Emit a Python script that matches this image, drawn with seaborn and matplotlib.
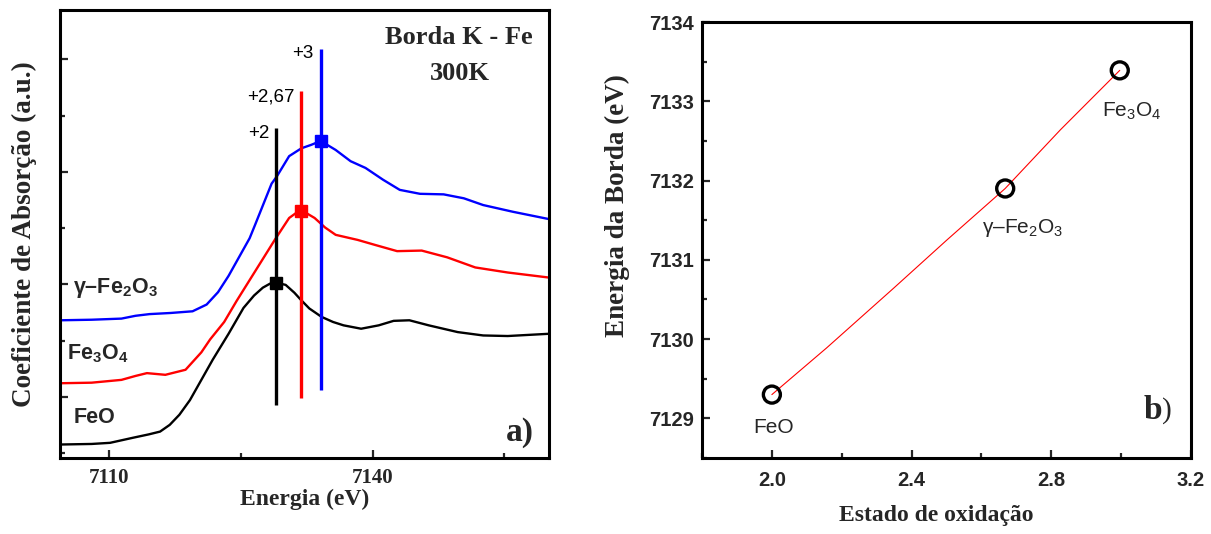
import numpy as np
import pandas as pd
import matplotlib
matplotlib.use("Agg")
import matplotlib.pyplot as plt
import seaborn as sns

# ---- (a) XANES spectra at the Fe K edge, 300 K (offset curves, arbitrary units) ----
energia_feo = [7104.4, 7108.0, 7110.1, 7112.7, 7114.5, 7115.8, 7116.9, 7118.0, 7119.2,
               7120.5, 7121.8, 7123.6, 7125.3, 7126.5, 7127.5, 7128.3, 7129.0, 7130.1,
               7131.1, 7131.8, 7132.8, 7134.2, 7135.5, 7136.7, 7138.7, 7140.7, 7142.4,
               7144.2, 7146.4, 7149.7, 7152.6, 7155.4, 7160.1]
mu_feo = [0.15, 0.16, 0.18, 0.27, 0.33, 0.38, 0.50, 0.68, 0.94,
          1.30, 1.66, 2.12, 2.58, 2.80, 2.94, 3.01, 3.03, 2.99,
          2.85, 2.73, 2.57, 2.42, 2.33, 2.27, 2.21, 2.27, 2.35,
          2.36, 2.27, 2.15, 2.09, 2.08, 2.12]

energia_fe3o4 = [7104.4, 7108.0, 7111.4, 7113.0, 7114.3, 7116.4, 7118.7, 7120.5, 7121.5,
                 7123.1, 7124.5, 7126.1, 7127.5, 7128.9, 7130.5, 7131.3, 7132.1, 7133.4,
                 7134.6, 7135.8, 7138.3, 7140.3, 7142.8, 7145.6, 7148.5, 7151.7, 7155.4,
                 7160.1]
mu_fe3o4 = [1.24, 1.25, 1.30, 1.37, 1.42, 1.39, 1.48, 1.79, 2.02,
            2.33, 2.70, 3.10, 3.45, 3.80, 4.18, 4.27, 4.30, 4.18,
            4.01, 3.88, 3.79, 3.70, 3.59, 3.60, 3.48, 3.30, 3.21,
            3.12]

energia_gfe2o3 = [7104.4, 7108.0, 7111.4, 7113.0, 7114.6, 7117.0, 7119.5, 7121.1, 7122.4,
                  7123.6, 7126.0, 7126.6, 7128.5, 7129.1, 7130.5, 7131.9, 7133.0, 7134.1,
                  7135.8, 7137.5, 7139.2, 7141.2, 7143.1, 7145.4, 7148.1, 7150.4, 7152.6,
                  7156.0, 7160.1]
mu_gfe2o3 = [2.36, 2.37, 2.39, 2.44, 2.47, 2.49, 2.52, 2.64, 2.86,
             3.15, 3.82, 4.05, 4.79, 4.92, 5.28, 5.42, 5.48, 5.55,
             5.39, 5.19, 5.07, 4.86, 4.68, 4.61, 4.60, 4.53, 4.41,
             4.29, 4.16]

# edge positions marked on each spectrum
amostras = ["FeO", "Fe3O4", "gFe2O3"]
cores = ["#000000", "#ff0000", "#0000ff"]
borda_energia = [7129.0, 7131.9, 7134.1]
borda_mu = [3.03, 4.30, 5.55]
rotulo_oxid = ["+2", "+2,67", "+3"]
linha_base = [0.85, 0.98, 1.12]
linha_topo = [5.78, 6.43, 7.19]

# ---- (b) edge energy versus oxidation state ----
estado_oxid = [2.0, 2.668, 2.996]
energia_borda = [7129.30, 7131.90, 7133.39]
nomes_b = ["FeO", r"$\gamma$–Fe$_2$O$_3$", r"Fe$_3$O$_4$"]
# red guide curve through the points
ajuste_x = [2.0, 2.157, 2.348, 2.501, 2.668, 2.826, 2.996]
ajuste_y = [7129.30, 7129.89, 7130.64, 7131.25, 7131.90, 7132.64, 7133.39]

sns.set_theme(style="ticks")
plt.rcParams.update({
    "font.family": ["Liberation Sans", "DejaVu Sans"],
    "mathtext.fontset": "custom",
    "mathtext.rm": "Liberation Sans",
    "mathtext.it": "Liberation Sans:italic",
    "mathtext.bf": "Liberation Sans:bold",
    "mathtext.default": "rm",
    "axes.linewidth": 2.2,
    "xtick.direction": "in",
    "ytick.direction": "in",
})

fig = plt.figure(figsize=(12.11, 5.34), dpi=100)
ax1 = fig.add_axes([0.04955, 0.1423, 0.4038, 0.8390])
ax2 = fig.add_axes([0.5797, 0.1423, 0.4038, 0.8165])

serif_bold = dict(family="Liberation Serif", weight="bold")

# ---------------- panel (a) ----------------
espectros = pd.concat([
    pd.DataFrame({"energia": energia_feo, "mu": mu_feo, "amostra": "FeO"}),
    pd.DataFrame({"energia": energia_fe3o4, "mu": mu_fe3o4, "amostra": "Fe3O4"}),
    pd.DataFrame({"energia": energia_gfe2o3, "mu": mu_gfe2o3, "amostra": "gFe2O3"}),
], ignore_index=True)

sns.lineplot(data=espectros, x="energia", y="mu", hue="amostra",
             palette=dict(zip(amostras, cores)), sort=False, legend=False,
             linewidth=1.7, ax=ax1)

for e, m, c, r, b, t in zip(borda_energia, borda_mu, cores, rotulo_oxid,
                            linha_base, linha_topo):
    ax1.vlines(e, b, t, color=c, linewidth=2.4, zorder=3)
    ax1.plot([e], [m], marker="s", markersize=8.5, color=c, zorder=4)
    ax1.annotate(r, xy=(e, t), xytext=(-5, -7), textcoords="offset points",
                 ha="right", va="baseline", fontsize=13.5, color="black")

ax1.set_xlim(7104.4, 7160.1)
ax1.set_ylim(-0.09, 7.88)
ax1.set_xticks([7110, 7140])
ax1.set_xticks([7125, 7155], minor=True)
ax1.set_yticks([1, 3, 5, 7])
ax1.set_yticks([0, 2, 4, 6], minor=True)
ax1.set_yticklabels([])
ax1.tick_params(axis="both", which="major", length=6, width=1.6)
ax1.tick_params(axis="both", which="minor", length=3.5, width=1.6)
ax1.tick_params(axis="x", which="major", pad=7)
for lab in ax1.get_xticklabels():
    lab.set_fontfamily("Liberation Serif")
    lab.set_fontweight("bold")
    lab.set_fontsize(15)
ax1.set_xlabel("Energia (eV)", fontsize=17, labelpad=1, **serif_bold)
ax1.set_ylabel("Coeficiente de Absorção (a.u.)", fontsize=19.5, labelpad=13, **serif_bold)

ax1.text(0.027, 0.368, r"γ–Fe$\mathbf{_2}$O$\mathbf{_3}$", transform=ax1.transAxes,
         fontsize=15.5, weight="bold", ha="left", va="baseline")
ax1.text(0.014, 0.221, r"Fe$\mathbf{_3}$O$\mathbf{_4}$", transform=ax1.transAxes,
         fontsize=15.5, weight="bold", ha="left", va="baseline")
ax1.text(0.027, 0.079, "FeO", transform=ax1.transAxes,
         fontsize=15.5, weight="bold", ha="left", va="baseline")

ax1.text(0.816, 0.9375, "Borda K - Fe", transform=ax1.transAxes, fontsize=19,
         ha="center", va="center", **serif_bold)
ax1.text(0.818, 0.859, "300K", transform=ax1.transAxes, fontsize=19,
         ha="center", va="center", **serif_bold)
ax1.text(0.941, 0.058, "a)", transform=ax1.transAxes, fontsize=24,
         ha="center", va="center", **serif_bold)

# ---------------- panel (b) ----------------
sns.lineplot(x=ajuste_x, y=ajuste_y, color="#ff0000", linewidth=0.8,
             sort=False, ax=ax2, zorder=2)
sns.scatterplot(x=estado_oxid, y=energia_borda, marker="o", s=150,
                facecolors="none", edgecolors="black", linewidths=2.4,
                ax=ax2, zorder=3)

offsets = [(0.006, -0.41), (0.049, -0.50), (0.033, -0.52)]
for x, y, nome, (dx, dy) in zip(estado_oxid, energia_borda, nomes_b, offsets):
    ax2.text(x + dx, y + dy, nome, fontsize=15, ha="center", va="center")

ax2.set_xlim(1.8, 3.2)
ax2.set_ylim(7128.5, 7134)
ax2.set_xticks([2.0, 2.4, 2.8, 3.2])
ax2.set_xticks([1.8, 2.2, 2.6, 3.0], minor=True)
ax2.set_yticks([7129, 7130, 7131, 7132, 7133, 7134])
ax2.set_yticks([7128.5, 7129.5, 7130.5, 7131.5, 7132.5, 7133.5], minor=True)
ax2.set_xticklabels(["2.0", "2.4", "2.8", "3.2"])
ax2.tick_params(axis="both", which="major", length=6, width=1.6, labelsize=14.5)
ax2.tick_params(axis="both", which="minor", length=3.5, width=1.6)
ax2.tick_params(axis="x", which="major", pad=9)
ax2.tick_params(axis="y", which="major", pad=6)
for lab in ax2.get_xticklabels() + ax2.get_yticklabels():
    lab.set_fontweight("bold")
ax2.set_xlabel("Estado de oxidação", fontsize=17, **serif_bold)
ax2.xaxis.set_label_coords(0.478, -0.108)
ax2.set_ylabel("Energia da Borda (eV)", fontsize=19.5, **serif_bold)
ax2.yaxis.set_label_coords(-0.147, 0.58)

ax2.text(0.921, 0.110, "b", transform=ax2.transAxes, fontsize=24,
         ha="center", va="center", **serif_bold)
ax2.text(0.951, 0.110, ")", transform=ax2.transAxes, fontsize=21,
         ha="center", va="center", family="Liberation Serif")

for ax in (ax1, ax2):
    for sp in ax.spines.values():
        sp.set_visible(True)
        sp.set_linewidth(2.2)
        sp.set_color("black")

fig.savefig("out.png", dpi=100, facecolor="white")
